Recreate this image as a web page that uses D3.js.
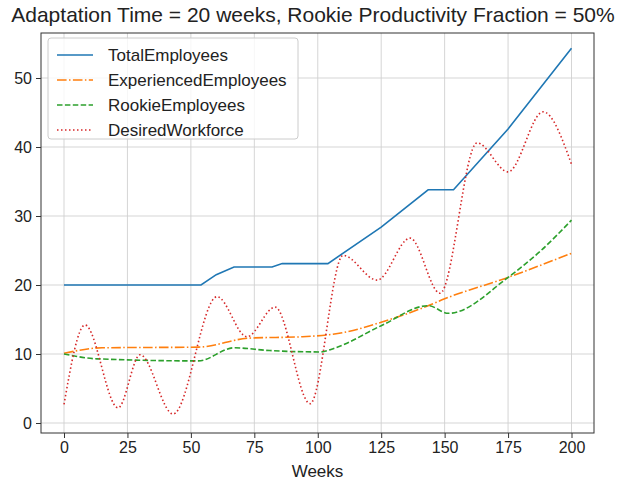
<!DOCTYPE html>
<html>
<head>
<meta charset="utf-8">
<script src="https://cdn.jsdelivr.net/npm/d3@7"></script>
<style>
body { margin: 0; background: #fff; }
svg { font-family: "Liberation Sans", Arial, sans-serif; }
</style>
</head>
<body>
<svg width="625" height="481"></svg>
<script>
// data: [week, value]
var totalEmployees = [[0,20],[54,20],[60,21.5],[67,22.6],[82,22.6],[86,23.1],[104,23.1],[125,28.4],[143.5,33.8],[153.5,33.8],[175,42.6],[200,54.3]];
var experiencedEmployees = [[0,10.1],[15,10.9],[53,11],[73,12.3],[94,12.5],[110,13.1],[125,14.6],[143.5,17],[150,18],[175,21.1],[200,24.6]];
var rookieEmployees = [[0,10],[13,9.3],[53,9],[67,10.9],[81,10.5],[101,10.3],[107,10.9],[125,14.1],[143.5,17],[151.5,15.9],[175,21.1],[188,25],[200,29.4]];
var desiredWorkforce = [[0,2.7],[8.3,14.2],[21.3,2.2],[30,9.9],[43,1.3],[60.3,18.3],[72.1,12.5],[83.2,16.8],[97,2.8],[110,24.3],[123.4,20.7],[136.4,26.8],[148.2,18.8],[162.8,40.6],[175,36.4],[188.8,45.1],[200,37.5]];

var seriesNames = ["TotalEmployees","ExperiencedEmployees","RookieEmployees","DesiredWorkforce"];
var xTicks = [0,25,50,75,100,125,150,175,200];
var yTicks = [0,10,20,30,40,50];
var title = "Adaptation Time = 20 weeks, Rookie Productivity Fraction = 50%";

var series = [
  {name: seriesNames[0], pts: totalEmployees, color: "#1f77b4", dash: null, curve: d3.curveLinear},
  {name: seriesNames[1], pts: experiencedEmployees, color: "#ff7f0e", dash: "9.6,2.4,1.5,2.4", curve: d3.curveMonotoneX},
  {name: seriesNames[2], pts: rookieEmployees, color: "#2ca02c", dash: "5.5,2.4", curve: d3.curveMonotoneX},
  {name: seriesNames[3], pts: desiredWorkforce, color: "#d62728", dash: "1.5,2.5", curve: d3.curveMonotoneX}
];

var svg = d3.select("svg");
var frame = {left: 41, right: 594, top: 33, bottom: 433};

var x = d3.scaleLinear().domain([0, 200]).range([64, 571.5]);
var y = d3.scaleLinear().domain([0, 50]).range([423, 78]);

// grid
var grid = svg.append("g").attr("stroke", "#d0d0d0").attr("stroke-width", 0.9);
grid.selectAll(".gx").data(xTicks).enter().append("line")
  .attr("x1", function(d) { return x(d); }).attr("x2", function(d) { return x(d); })
  .attr("y1", frame.top).attr("y2", frame.bottom);
grid.selectAll(".gy").data(yTicks).enter().append("line")
  .attr("y1", function(d) { return y(d); }).attr("y2", function(d) { return y(d); })
  .attr("x1", frame.left).attr("x2", frame.right);

// lines
svg.append("g").selectAll("path").data(series).enter().append("path")
  .attr("d", function(d) {
    return d3.line()
      .x(function(p) { return x(p[0]); })
      .y(function(p) { return y(p[1]); })
      .curve(d.curve)(d.pts);
  })
  .attr("fill", "none")
  .attr("stroke", function(d) { return d.color; })
  .attr("stroke-width", 1.6)
  .attr("stroke-dasharray", function(d) { return d.dash; });

// frame
svg.append("rect")
  .attr("x", frame.left).attr("y", frame.top)
  .attr("width", frame.right - frame.left).attr("height", frame.bottom - frame.top)
  .attr("fill", "none").attr("stroke", "#333").attr("stroke-width", 1);

// axes
var xAxis = svg.append("g").attr("transform", "translate(0," + frame.bottom + ")")
  .call(d3.axisBottom(x).tickValues(xTicks).tickSize(5).tickSizeOuter(0).tickPadding(4));
var yAxis = svg.append("g").attr("transform", "translate(" + frame.left + ",0)")
  .call(d3.axisLeft(y).tickValues(yTicks).tickSize(5).tickSizeOuter(0).tickPadding(4));
[xAxis, yAxis].forEach(function(a) {
  a.select(".domain").remove();
  a.selectAll("line").attr("stroke", "#333");
  a.selectAll("text").attr("fill", "#222").style("font-size", "16px")
    .style("font-family", "'Liberation Sans', Arial, sans-serif");
});

svg.append("text").attr("x", (frame.left + frame.right) / 2).attr("y", 477)
  .attr("text-anchor", "middle").attr("fill", "#222").style("font-size", "17px").text("Weeks");

svg.append("text").attr("x", 313).attr("y", 22)
  .attr("text-anchor", "middle").attr("fill", "#222").style("font-size", "21px").text(title);

// legend
var lg = svg.append("g");
lg.append("rect").attr("x", 48).attr("y", 38).attr("width", 250).attr("height", 101).attr("rx", 3)
  .attr("fill", "#fff").attr("fill-opacity", 0.8).attr("stroke", "#ccc");
var items = lg.selectAll(".item").data(series).enter().append("g")
  .attr("transform", function(d, i) { return "translate(0," + (55 + i * 25) + ")"; });
items.append("line").attr("x1", 57).attr("x2", 93)
  .attr("stroke", function(d) { return d.color; }).attr("stroke-width", 1.6)
  .attr("stroke-dasharray", function(d) { return d.dash; });
items.append("text").attr("x", 108).attr("y", 6).attr("fill", "#222")
  .style("font-size", "17px").text(function(d) { return d.name; });
</script>
</body>
</html>
